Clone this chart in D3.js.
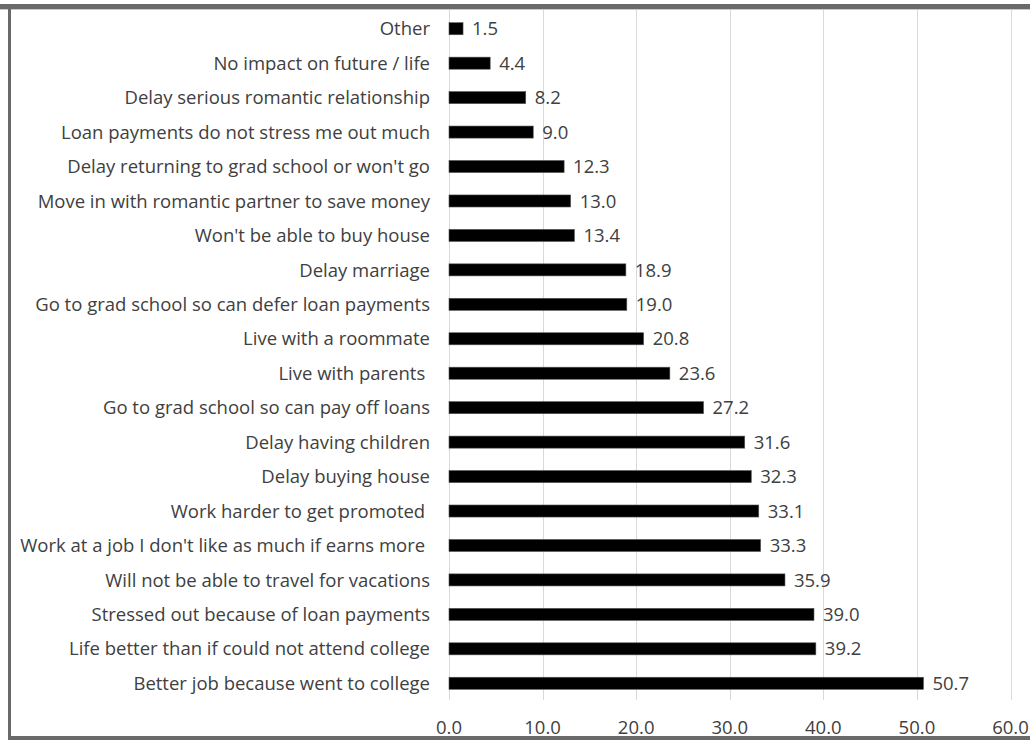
<!DOCTYPE html>
<html>
<head>
<meta charset="utf-8">
<script src="https://cdn.jsdelivr.net/npm/d3@7"></script>
<style>
  html, body { margin: 0; padding: 0; background: #fff; }
  svg text { font-family: "Open Sans", Lato, sans-serif; white-space: pre; }
</style>
</head>
<body>
<svg id="chart" width="1030" height="740"></svg>
<script>
// categories top to bottom, as printed on the chart
const categories = [
    "Other",
    "No impact on future / life",
    "Delay serious romantic relationship",
    "Loan payments do not stress me out much",
    "Delay returning to grad school or won't go",
    "Move in with romantic partner to save money",
    "Won't be able to buy house",
    "Delay marriage",
    "Go to grad school so can defer loan payments",
    "Live with a roommate",
    "Live with parents ",
    "Go to grad school so can pay off loans",
    "Delay having children",
    "Delay buying house",
    "Work harder to get promoted ",
    "Work at a job I don't like as much if earns more ",
    "Will not be able to travel for vacations",
    "Stressed out because of loan payments",
    "Life better than if could not attend college",
    "Better job because went to college"
];
const values = [1.5, 4.4, 8.2, 9.0, 12.3, 13.0, 13.4, 18.9, 19.0, 20.8,
                23.6, 27.2, 31.6, 32.3, 33.1, 33.3, 35.9, 39.0, 39.2, 50.7];
const xTicks = [0, 10, 20, 30, 40, 50, 60];

const svg = d3.select("#chart");
const textColor = "#404040";
const fontSize = 18.5;

const x = d3.scaleLinear().domain([0, 60]).range([449, 1010.5]);
const y = d3.scaleBand().domain(categories).range([11.5, 700.5])
    .paddingInner(0.65).paddingOuter(0.325);

// frame
svg.append("rect").attr("x", 0).attr("y", 4).attr("width", 1030).attr("height", 5).attr("fill", "#6a6a6a");
svg.append("rect").attr("x", 0).attr("y", 9).attr("width", 1030).attr("height", 1).attr("fill", "#c8c8c8");
svg.append("rect").attr("x", 8).attr("y", 4).attr("width", 3).attr("height", 736).attr("fill", "#6a6a6a");
svg.append("rect").attr("x", 8).attr("y", 736).attr("width", 1022).attr("height", 4).attr("fill", "#6a6a6a");

// gridlines
svg.append("g").selectAll("line").data(xTicks).join("line")
    .attr("x1", d => Math.round(x(d)) + 0.5).attr("x2", d => Math.round(x(d)) + 0.5)
    .attr("y1", 10).attr("y2", 700)
    .attr("stroke", "#d9d9d9").attr("stroke-width", 1);

// x tick labels
svg.append("g").selectAll("text").data(xTicks).join("text")
    .attr("x", d => x(d)).attr("y", 734)
    .attr("text-anchor", "middle")
    .attr("font-size", fontSize).attr("fill", textColor)
    .text(d => d3.format(".1f")(d));

// bars
svg.append("g").selectAll("rect").data(values).join("rect")
    .attr("x", x(0))
    .attr("y", (d, i) => y(categories[i]))
    .attr("width", d => x(d) - x(0))
    .attr("height", y.bandwidth())
    .attr("fill", "#000").attr("stroke", "#555").attr("stroke-width", 0.6);

// value labels
svg.append("g").selectAll("text").data(values).join("text")
    .attr("x", d => x(d) + 9)
    .attr("y", (d, i) => y(categories[i]) + y.bandwidth() / 2)
    .attr("dy", "0.36em")
    .attr("font-size", fontSize).attr("fill", textColor)
    .text(d => d3.format(".1f")(d));

// category labels
svg.append("g").selectAll("text").data(categories).join("text")
    .attr("x", 430)
    .attr("y", d => y(d) + y.bandwidth() / 2)
    .attr("dy", "0.36em")
    .attr("text-anchor", "end")
    .attr("font-size", fontSize).attr("fill", textColor)
    .text(d => d);
</script>
</body>
</html>
